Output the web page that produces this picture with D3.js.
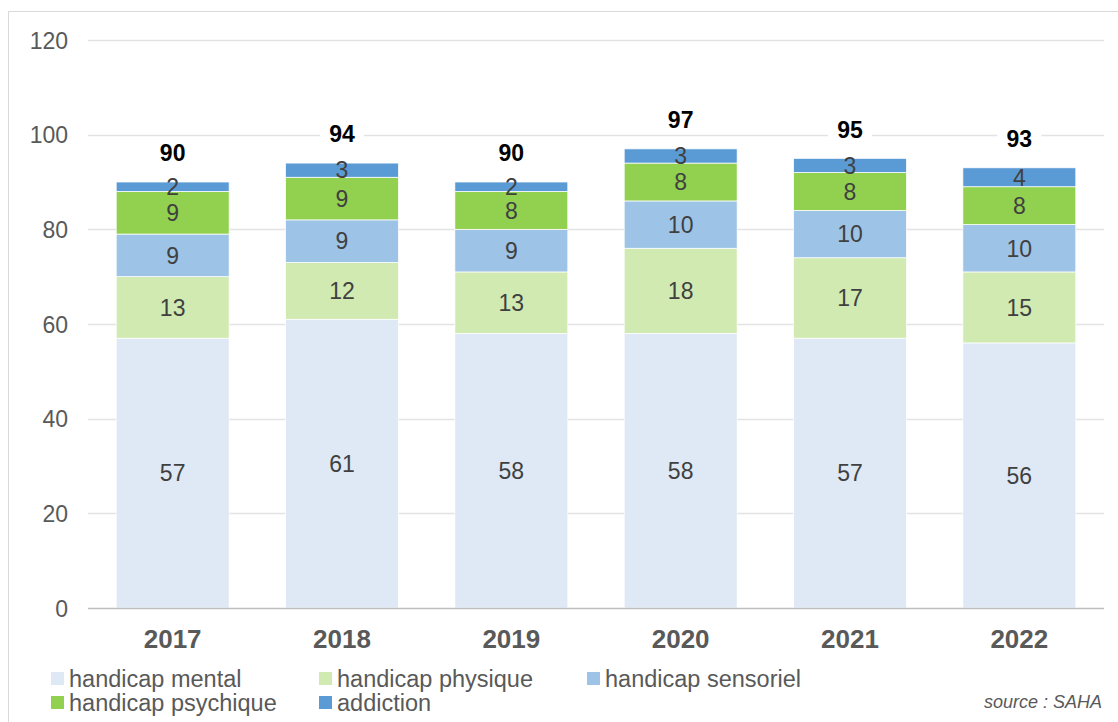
<!DOCTYPE html>
<html><head><meta charset="utf-8">
<script src="https://cdn.jsdelivr.net/npm/d3@7"></script>
<style>body{margin:0;background:#fff;}svg{display:block;font-family:"Liberation Sans",Arial,sans-serif;}</style>
</head><body>
<svg id="c" width="1118" height="722"></svg>
<script>
const years = ["2017","2018","2019","2020","2021","2022"];
const seriesNames = ["handicap mental","handicap physique","handicap sensoriel","handicap psychique","addiction"];
const seriesColors = ["#dee9f5","#d1eab2","#9dc3e6","#92d050","#5b9bd5"];
const mental = [57,61,58,58,57,56];
const physique = [13,12,13,18,17,15];
const sensoriel = [9,9,9,10,10,10];
const psychique = [9,9,8,8,8,8];
const addiction = [2,3,2,3,3,4];
const totals = [90,94,90,97,95,93];
const yTicks = [0,20,40,60,80,100,120];

const svg = d3.select("#c");
// frame
svg.append("rect").attr("x",8.5).attr("y",11.5).attr("width",1130).attr("height",730)
  .attr("fill","none").attr("stroke","#d9d9d9").attr("stroke-width",1);

const x = d3.scaleBand().domain(years).range([88,1104]).paddingInner(0.333).paddingOuter(0.1665);
const y = d3.scaleLinear().domain([0,120]).range([608,40]);

// grid
svg.append("g").selectAll("line").data(yTicks.filter(t=>t>0)).join("line")
  .attr("x1",88).attr("x2",1104).attr("y1",d=>Math.round(y(d))+0.5).attr("y2",d=>Math.round(y(d))+0.5)
  .attr("stroke","#e3e3e3").attr("stroke-width",1.5);

// y axis labels
const yAxis = d3.axisLeft(y).tickValues(yTicks).tickSize(0).tickPadding(0);
const ga = svg.append("g").attr("transform","translate(68,0)").call(yAxis);
ga.select(".domain").remove();
ga.selectAll("text").attr("font-size",23).attr("fill","#595959").attr("font-family","Liberation Sans, Arial, sans-serif").attr("dy","0.35em");

const rows = years.map((yr,i)=>({year:yr, "handicap mental":mental[i], "handicap physique":physique[i],
  "handicap sensoriel":sensoriel[i], "handicap psychique":psychique[i], "addiction":addiction[i]}));
const stack = d3.stack().keys(seriesNames)(rows);

const g = svg.append("g");
stack.forEach((s,si)=>{
  g.append("g").selectAll("rect").data(s).join("rect")
    .attr("x",d=>x(d.data.year)).attr("width",x.bandwidth())
    .attr("y",d=>y(d[1])).attr("height",d=>y(d[0])-y(d[1]))
    .attr("fill",seriesColors[si]).attr("stroke","#fff").attr("stroke-width",0.75);
});
// baseline
svg.append("line").attr("x1",88).attr("x2",1104).attr("y1",608.5).attr("y2",608.5).attr("stroke","#bfbfbf").attr("stroke-width",1.5);

// segment labels
stack.forEach((s,si)=>{
  g.append("g").selectAll("text").data(s).join("text")
    .attr("x",d=>x(d.data.year)+x.bandwidth()/2)
    .attr("y",d=>(y(d[0])+y(d[1]))/2).attr("dy","0.36em")
    .attr("text-anchor","middle").attr("font-size",23).attr("fill","#404040")
    .text(d=>d[1]-d[0]);
});

// totals
const tg = svg.append("g").selectAll("g").data(years).join("g")
  .attr("transform",(d,i)=>`translate(${x(d)+x.bandwidth()/2},${y(totals[i])-29})`);
tg.append("rect").attr("x",-22).attr("y",-14).attr("width",44).attr("height",28).attr("fill","#fff");
tg.append("text").attr("text-anchor","middle").attr("dy","0.36em").attr("font-size",23).attr("font-weight","bold")
  .attr("fill","#000").text((d,i)=>totals[i]);

// x labels
svg.append("g").selectAll("text").data(years).join("text")
  .attr("x",d=>x(d)+x.bandwidth()/2).attr("y",638.5).attr("dy","0.36em")
  .attr("text-anchor","middle").attr("font-size",26).attr("font-weight","bold").attr("fill","#595959").text(d=>d);

// legend
const legPos = [[51,678.5],[319,678.5],[587,678.5],[51,702.5],[319,702.5]];
const lg = svg.append("g").selectAll("g").data(seriesNames).join("g")
  .attr("transform",(d,i)=>`translate(${legPos[i][0]},${legPos[i][1]})`);
lg.append("rect").attr("x",0).attr("y",-6.5).attr("width",13).attr("height",13).attr("fill",(d,i)=>seriesColors[i]);
lg.append("text").attr("x",18).attr("dy","0.36em").attr("font-size",23.5).attr("fill","#595959").text(d=>d);

svg.append("text").attr("x",1102).attr("y",702).attr("dy","0.36em").attr("text-anchor","end")
  .attr("font-size",18).attr("font-style","italic").attr("fill","#595959").text("source : SAHA");
</script>
</body></html>
